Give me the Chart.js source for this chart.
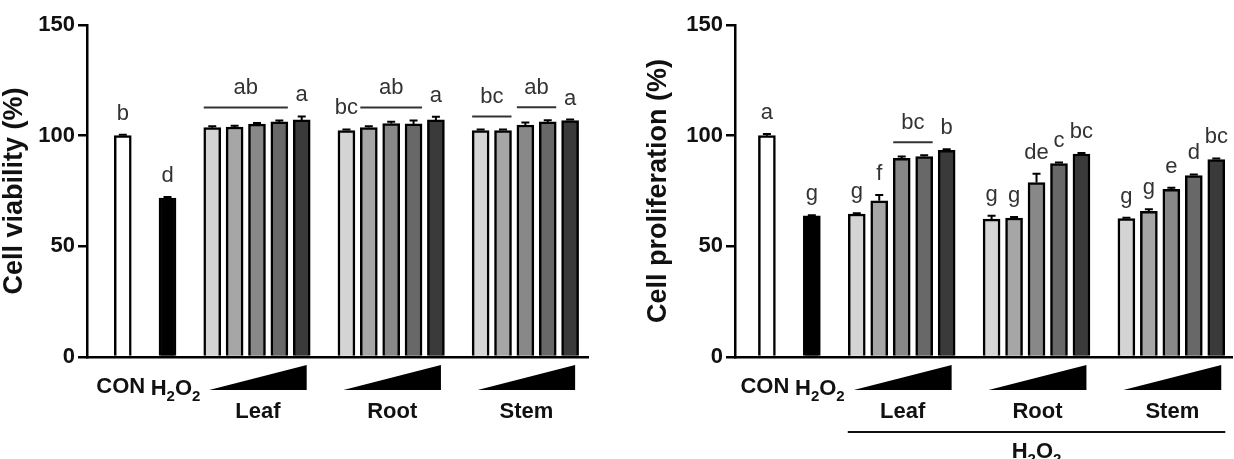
<!DOCTYPE html>
<html>
<head>
<meta charset="utf-8">
<script src="https://cdn.jsdelivr.net/npm/chart.js@4.4.1/dist/chart.umd.min.js"></script>
<style>
  html, body { margin: 0; padding: 0; background: #fff; }
  .panel { position: absolute; top: 0; width: 617px; height: 459px; }
</style>
</head>
<body>
<div class="panel" style="left:0"><canvas id="viabilityChart"></canvas></div>
<div class="panel" style="left:617px"><canvas id="prolifChart"></canvas></div>
<script>
// grupos do eixo x
const controls = ['CON', 'H2O2'];
const extracts = ['Leaf', 'Root', 'Stem'];
const doseCount = 5;
const yTicks = [0, 50, 100, 150];

// viabilidade celular (%)
const viabilityValues = [100, 71.8, 103.6, 103.9, 105.2, 106.2, 107.1, 102.3, 103.7, 105.5, 105.3, 107.1, 102.3, 102.3, 104.8, 106.2, 106.8];
const viabilityErrors = [0.4, 0.5, 0.7, 0.6, 0.5, 0.7, 1.6, 0.5, 0.6, 0.8, 1.6, 1.5, 0.5, 0.5, 1.2, 0.8, 0.5];
const viabilityLetters = ['b', 'd', '', '', '', '', 'a', 'bc', '', '', '', 'a', '', '', '', '', 'a'];
const viabilitySpans = [[2, 5, 'ab'], [8, 10, 'ab'], [12, 13, 'bc'], [14, 15, 'ab']];

// proliferação celular (%)
const prolifValues = [100, 63.8, 64.6, 70.6, 89.8, 90.6, 93.4, 62.3, 62.8, 78.8, 87.4, 91.7, 62.5, 65.8, 75.7, 82.0, 89.2];
const prolifErrors = [0.8, 0.3, 0.4, 2.6, 0.8, 0.5, 0.5, 1.5, 0.4, 4.0, 0.5, 0.5, 0.4, 1.0, 0.8, 0.5, 0.5];
const prolifLetters = ['a', 'g', 'g', 'f', '', '', 'b', 'g', 'g', 'de', 'c', 'bc', 'g', 'g', 'e', 'd', 'bc'];
const prolifSpans = [[4, 5, 'bc']];

const barFills = ['#ffffff', '#000000', '#d4d4d4', '#a6a6a6', '#888888', '#686868', '#3a3a3a'];
const FONT = '"Liberation Sans", Arial, sans-serif';

// posição de cada barra (com espaço entre os grupos)
const slots = [];
const fills = [];
controls.forEach((c, i) => { slots.push(1 + 2 * i); fills.push(barFills[i]); });
extracts.forEach((e, g) => {
    for (let d = 0; d < doseCount; d++) {
        slots.push(5 + 6 * g + d);
        fills.push(barFills[2 + d]);
    }
});

function drawH2O2(ctx, cx, y, size) {
    const big = 'bold ' + size + 'px ' + FONT;
    const small = 'bold ' + Math.round(size * 0.68) + 'px ' + FONT;
    const parts = [['H', big, 0], ['2', small, size * 0.28], ['O', big, 0], ['2', small, size * 0.28]];
    let total = 0;
    parts.forEach(p => { ctx.font = p[1]; total += ctx.measureText(p[0]).width; });
    let x = cx - total / 2;
    ctx.textAlign = 'left';
    parts.forEach(p => {
        ctx.font = p[1];
        ctx.fillText(p[0], x, y + p[2]);
        x += ctx.measureText(p[0]).width;
    });
}

const annotatePlugin = {
    id: 'annotate',
    afterDatasetsDraw(chart) {
        const ctx = chart.ctx;
        const yScale = chart.scales.y;
        const bars = chart.getDatasetMeta(0).data;
        const opts = chart.options.plugins.annotate;
        const values = opts.values, errors = opts.errors;

        // barras de erro
        ctx.save();
        ctx.strokeStyle = '#000';
        ctx.lineWidth = 2;
        bars.forEach((bar, i) => {
            const yTop = yScale.getPixelForValue(values[i] + errors[i]);
            const yVal = yScale.getPixelForValue(values[i]);
            ctx.beginPath();
            ctx.moveTo(bar.x, yVal);
            ctx.lineTo(bar.x, yTop);
            ctx.moveTo(bar.x - 4, yTop);
            ctx.lineTo(bar.x + 4, yTop);
            ctx.stroke();
        });

        // letras de significância
        ctx.fillStyle = '#333';
        ctx.font = '22px ' + FONT;
        ctx.textAlign = 'center';
        ctx.textBaseline = 'alphabetic';
        opts.letters.forEach((txt, i) => {
            if (!txt) return;
            const y = yScale.getPixelForValue(values[i] + errors[i]) - 15;
            ctx.fillText(txt, bars[i].x, y);
        });

        ctx.strokeStyle = '#333';
        ctx.lineWidth = 2;
        opts.spans.forEach(([a, b, txt]) => {
            let top = Infinity;
            for (let i = a; i <= b; i++) {
                top = Math.min(top, yScale.getPixelForValue(values[i] + errors[i]));
            }
            const lineY = top - 13;
            const x0 = bars[a].x - bars[a].width / 2;
            const x1 = bars[b].x + bars[b].width / 2;
            ctx.beginPath();
            ctx.moveTo(x0, lineY);
            ctx.lineTo(x1, lineY);
            ctx.stroke();
            ctx.fillText(txt, (x0 + x1) / 2, lineY - 13);
        });
        ctx.restore();
    },
    afterDraw(chart) {
        const ctx = chart.ctx;
        const bars = chart.getDatasetMeta(0).data;
        const bottom = chart.chartArea.bottom;
        const opts = chart.options.plugins.annotate;

        ctx.save();
        ctx.fillStyle = '#111';
        ctx.textBaseline = 'middle';
        ctx.textAlign = 'center';
        ctx.font = 'bold 22px ' + FONT;
        ctx.fillText(controls[0], bars[0].x - 2, bottom + 30);
        ctx.textBaseline = 'alphabetic';
        drawH2O2(ctx, bars[1].x + 8, bottom + 38, 22);

        // cunhas de concentração
        ctx.fillStyle = '#000';
        extracts.forEach((name, g) => {
            const first = bars[2 + g * doseCount];
            const last = bars[2 + g * doseCount + doseCount - 1];
            const xl = first.x - 3, xr = last.x + 5;
            ctx.beginPath();
            ctx.moveTo(xl, bottom + 33);
            ctx.lineTo(xr, bottom + 8);
            ctx.lineTo(xr, bottom + 33);
            ctx.closePath();
            ctx.fill();
            ctx.fillStyle = '#111';
            ctx.font = 'bold 22px ' + FONT;
            ctx.textAlign = 'center';
            ctx.textBaseline = 'middle';
            ctx.fillText(name, (xl + xr) / 2, bottom + 55);
            ctx.fillStyle = '#000';
        });

        if (opts.treatLine) {
            const x0 = bars[2].x - 9;
            const x1 = bars[bars.length - 1].x + 9;
            ctx.strokeStyle = '#111';
            ctx.lineWidth = 2;
            ctx.beginPath();
            ctx.moveTo(x0, bottom + 75);
            ctx.lineTo(x1, bottom + 75);
            ctx.stroke();
            ctx.fillStyle = '#111';
            ctx.textBaseline = 'alphabetic';
            drawH2O2(ctx, (x0 + x1) / 2, bottom + 101, 22);
        }
        ctx.restore();
    }
};

function makeChart(canvasId, cfg) {
    const canvas = document.getElementById(canvasId);
    canvas.width = 617;
    canvas.height = 459;
    return new Chart(canvas, {
        type: 'bar',
        data: {
            datasets: [{
                data: cfg.values.map((v, i) => ({ x: slots[i], y: v })),
                backgroundColor: fills,
                borderColor: '#000',
                borderWidth: 2.5,
                barThickness: 17
            }]
        },
        options: {
            responsive: false,
            animation: false,
            layout: { padding: { top: 25, left: cfg.padLeft, right: cfg.padRight, bottom: 102 } },
            plugins: {
                legend: { display: false },
                tooltip: { enabled: false },
                annotate: {
                    values: cfg.values,
                    errors: cfg.errors,
                    letters: cfg.letters,
                    spans: cfg.spans,
                    treatLine: cfg.treatLine
                }
            },
            scales: {
                x: {
                    type: 'linear',
                    min: cfg.xMin,
                    max: cfg.xMax,
                    offset: false,
                    ticks: { display: false },
                    grid: { display: false, offset: false },
                    border: { display: true, color: '#000', width: 2.5 },
                    afterFit: s => { s.height = 0; }
                },
                y: {
                    min: 0,
                    max: 150,
                    afterBuildTicks: s => { s.ticks = yTicks.map(v => ({ value: v })); },
                    ticks: {
                        color: '#111',
                        padding: 3,
                        font: { family: FONT, size: 22, weight: 'bold' }
                    },
                    grid: {
                        display: true,
                        drawOnChartArea: false,
                        drawTicks: true,
                        tickLength: 9,
                        color: '#000',
                        lineWidth: 2.5
                    },
                    border: { display: true, color: '#000', width: 2.5 },
                    title: {
                        display: true,
                        text: cfg.title,
                        color: '#111',
                        padding: 0,
                        font: { family: FONT, size: 27, weight: 'bold', lineHeight: 1.1 }
                    },
                    afterFit: s => { s.width = cfg.axisWidth; }
                }
            }
        },
        plugins: [annotatePlugin]
    });
}

makeChart('viabilityChart', {
    values: viabilityValues,
    errors: viabilityErrors,
    letters: viabilityLetters,
    spans: viabilitySpans,
    title: 'Cell viability (%)',
    padLeft: 0,
    padRight: 29,
    axisWidth: 87,
    xMin: -0.6,
    xMax: 21.8,
    treatLine: false
});

makeChart('prolifChart', {
    values: prolifValues,
    errors: prolifErrors,
    letters: prolifLetters,
    spans: prolifSpans,
    title: 'Cell proliferation (%)',
    padLeft: 27,
    padRight: 2,
    axisWidth: 91,
    xMin: -0.42,
    xMax: 21.7,
    treatLine: true
});
</script>
</body>
</html>
